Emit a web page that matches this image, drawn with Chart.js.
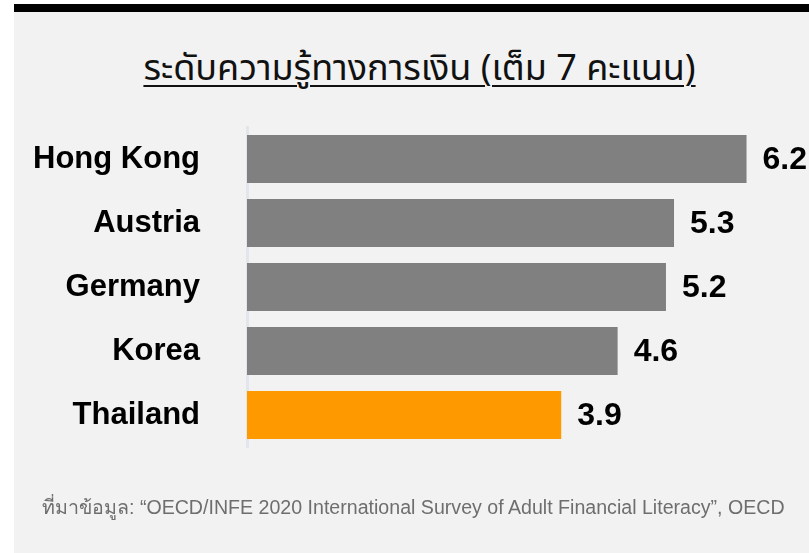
<!DOCTYPE html>
<html>
<head>
<meta charset="utf-8">
<script src="https://cdn.jsdelivr.net/npm/chart.js@4"></script>
<style>
  html, body { margin: 0; padding: 0; background: #fff; overflow: hidden; }
  body { width: 809px; height: 553px; position: relative; }
  .panel { position: absolute; left: 14px; top: 12px; width: 800px; height: 545px; background: #f2f2f2; }
  .topbar { position: absolute; left: 14px; top: 4px; width: 800px; height: 8px; background: #000; }
  .title {
    position: absolute; left: 0; top: 42px; width: 839px; text-align: center;
    font-family: "Noto Sans Thai", "Noto Sans", sans-serif; font-size: 36px; color: #111;
    text-decoration: underline; text-decoration-thickness: 2px; text-underline-offset: 5px;
  }
  .source {
    position: absolute; left: 42px; top: 491px; white-space: nowrap;
    font-family: "Liberation Sans", Arial, sans-serif; font-size: 19.6px; color: #6e6e6e;
  }
  .wrap { position: absolute; left: 0; top: 0; width: 820px; height: 553px; }
</style>
</head>
<body>
<div class="panel"></div>
<div class="topbar"></div>
<div class="title">ระดับความรู้ทางการเงิน (เต็ม 7 คะแนน)</div>
<div class="wrap"><canvas id="myChart" width="820" height="553"></canvas></div>
<div class="source">ที่มาข้อมูล: “OECD/INFE 2020 International Survey of Adult Financial Literacy”, OECD</div>
<script>
const countries = ['Hong Kong', 'Austria', 'Germany', 'Korea', 'Thailand'];
const scores = [6.2, 5.3, 5.2, 4.6, 3.9];
const barColors = ['#808080', '#808080', '#808080', '#808080', '#ff9900'];

const valueLabels = {
  id: 'valueLabels',
  afterDatasetsDraw(chart) {
    const ctx = chart.ctx;
    const meta = chart.getDatasetMeta(0);
    ctx.save();
    ctx.font = 'bold 32px "Liberation Sans", Arial, sans-serif';
    ctx.fillStyle = '#000';
    ctx.textAlign = 'left';
    ctx.textBaseline = 'middle';
    meta.data.forEach((bar, i) => {
      ctx.fillText(scores[i].toFixed(1), bar.x + 16, bar.y + 1);
    });
    ctx.restore();
  }
};

document.addEventListener('DOMContentLoaded', () => {
  const ctx = document.getElementById('myChart').getContext('2d');
  new Chart(ctx, {
    type: 'bar',
    data: {
      labels: countries,
      datasets: [{
        data: scores,
        backgroundColor: barColors,
        borderWidth: 0,
        categoryPercentage: 0.75,
        barPercentage: 1
      }]
    },
    options: {
      indexAxis: 'y',
      responsive: false,
      animation: false,
      layout: { padding: { left: 0, top: 127, bottom: 106, right: 9 } },
      scales: {
        x: { display: false, min: 0, max: 7 },
        y: {
          grid: { display: false, drawTicks: false },
          border: { display: true, color: '#e2e5ec', width: 3 },
          ticks: {
            color: '#000',
            padding: 47,
            font: { family: '"Liberation Sans", Arial, sans-serif', size: 31, weight: 'bold' }
          },
          afterFit(scale) { scale.width = 247; }
        }
      },
      plugins: {
        legend: { display: false },
        tooltip: { enabled: false }
      }
    },
    plugins: [valueLabels]
  });
});
</script>
</body>
</html>
